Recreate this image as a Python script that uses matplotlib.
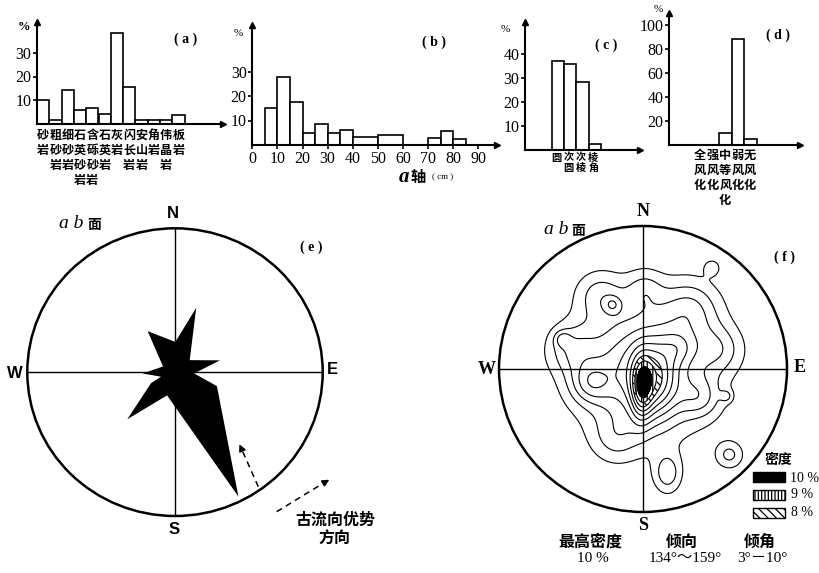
import numpy as np
import matplotlib
matplotlib.use('Agg')
import matplotlib.pyplot as plt
from matplotlib.patches import Circle, Rectangle

W, H = 819, 573
CJK = 'Noto Sans CJK SC'
SERIF = 'Liberation Serif'

# (a) rock types of the gravel
rock_names = ['砂岩', '粗砂岩', '细砂岩', '石英砂岩', '含砾砂岩', '石英岩',
              '灰岩', '闪长岩', '安山岩', '角岩', '伟晶岩', '板岩']
rock_pct = [9.8, 1.5, 14.3, 5.7, 6.8, 4.1, 38.5, 15.5, 1.7, 1.5, 1.5, 3.5]

# (b) a-axis length (cm)
a_left = [5, 10, 15, 20, 25, 30, 35, 40, 50, 70, 75, 80]
a_right = [10, 15, 20, 25, 30, 35, 40, 50, 60, 75, 80, 85]
a_pct = [15.0, 27.8, 17.4, 4.8, 8.6, 5.0, 6.2, 3.1, 4.0, 2.9, 5.9, 2.3]

# (c) roundness
round_names = ['圆', '次圆', '次棱', '棱角']
round_pct = [37, 35.5, 28, 2.5]

# (d) weathering
weather_names = ['全风化', '强风化', '中等风化', '弱风化', '无风化']
weather_pct = [0, 0, 10, 88, 5]

# (e) rose outline of the ab plane (clockwise from N, radius as fraction)
rose_deg = [0.6, 17.8, 50, 74.9, 94, 108.9, 153.6, 198.4, 224.6, 244.7, 251.6, 267.6, 296, 327]
rose_r = [0.21, 0.47, 0.13, 0.315, 0.13, 0.30, 0.966, 0.17, 0.46, 0.18, 0.10, 0.22, 0.09, 0.34]

# (f) density sources of the contour diagram (x east, y north, unit = radius)
blob_x = [-0.01, 0.08, 0.0, -0.30, 0.01, 0.33, 0.53, -0.50, -0.37, -0.19, 0.17, 0.60,
          0.48, 0.58, 0.40, -0.56, -0.21, 0.25]
blob_y = [-0.14, -0.08, 0.0, 0.52, 0.56, 0.42, 0.14, 0.14, -0.10, -0.49, -0.73, -0.60,
          0.71, -0.19, -0.20, 0.21, 0.45, 0.15]
blob_amp = [4.0, 3.5, 5.5, 2.0, 1.6, 2.5, 2.0, 2.0, 2.5, 1.6, 2.5, 2.2,
            1.5, 1.5, 2.0, 1.6, 1.6, 1.5]
blob_sx = [0.05, 0.10, 0.30, 0.12, 0.09, 0.15, 0.12, 0.12, 0.10, 0.12, 0.07, 0.07,
           0.04, 0.03, 0.10, 0.04, 0.04, 0.08]
blob_sy = [0.15, 0.17, 0.30, 0.12, 0.10, 0.15, 0.12, 0.12, 0.10, 0.12, 0.10, 0.07,
           0.04, 0.03, 0.10, 0.04, 0.04, 0.08]
line_levels = [1, 2, 3, 4, 5, 6, 7, 8, 9, 10]

plt.rcParams['hatch.linewidth'] = 0.9
plt.rcParams['hatch.color'] = 'black'

fig = plt.figure(figsize=(W / 100, H / 100), dpi=100)


def box(l, t, r, b):
    return [l / W, 1 - b / H, (r - l) / W, (b - t) / H]


def bar_axes(l, t, r, b):
    ax = fig.add_axes(box(l, t, r, b))
    ax.patch.set_alpha(0)
    for s in ['top', 'right']:
        ax.spines[s].set_visible(False)
    for s in ['left', 'bottom']:
        ax.spines[s].set_linewidth(1.5)
    ax.plot(1, 0, '>k', ms=5, transform=ax.transAxes, clip_on=False)
    ax.plot(0, 1, '^k', ms=5, transform=ax.transAxes, clip_on=False)
    ax.tick_params(length=3, width=1.2, labelsize=11.5, pad=1)
    return ax


def stacked(ax, x, name, top, size, spacing):
    ax.annotate('\n'.join(name), xy=(x, 0), xycoords=('data', 'axes fraction'),
                xytext=(0, -top), textcoords='offset pixels', ha='center', va='top',
                fontsize=size, family=CJK, weight='bold', linespacing=spacing)


def serif_ticks(ax):
    for lab in ax.get_yticklabels() + ax.get_xticklabels():
        lab.set_fontfamily(SERIF)


# (a)
ax = bar_axes(37, 22, 223, 123.5)
ax.bar(np.arange(len(rock_pct)), rock_pct, width=1, align='edge', fc='white', ec='black', lw=1.2)
ax.set_xlim(0, 186 / 12.3)
ax.set_ylim(0, 101.5 / 2.35)
ax.set_yticks([10, 20, 30])
ax.set_xticks([])
serif_ticks(ax)
for i, name in enumerate(rock_names):
    stacked(ax, i + 0.5, name, 5, 8.7, 1.2)

# (b)
ax = bar_axes(252.3, 25, 497, 145)
ax.bar(a_left, a_pct, width=np.subtract(a_right, a_left), align='edge', fc='white', ec='black', lw=1.2)
ax.set_xlim(0, 244.7 / 2.51)
ax.set_ylim(0, 120 / 2.45)
ax.set_yticks([10, 20, 30])
ax.set_xticks(range(0, 91, 10))
serif_ticks(ax)

# (c)
ax = bar_axes(525, 22, 640, 149.5)
ax.bar(np.arange(len(round_pct)), round_pct, width=1, align='edge', fc='white', ec='black', lw=1.2)
ax.set_xlim(-2.15, -2.15 + 115 / 12.4)
ax.set_ylim(0, 127.5 / 2.4)
ax.set_yticks([10, 20, 30, 40])
ax.set_xticks([])
serif_ticks(ax)
for i, name in enumerate(round_names):
    stacked(ax, i + 0.35, name, 3, 7.3, 1.08)

# (d)
ax = bar_axes(669, 13, 800, 145)
ax.bar(np.arange(len(weather_pct)), weather_pct, width=1, align='edge', fc='white', ec='black', lw=1.2)
ax.set_xlim(-2, -2 + 131 / 12.5)
ax.set_ylim(0, 132 / 1.2)
ax.set_yticks([20, 40, 60, 80, 100])
ax.set_xticks([])
serif_ticks(ax)
for i, name in enumerate(weather_names):
    stacked(ax, i + 0.5, name, 4, 8.8, 1.2)

# (e) rose diagram
ax = fig.add_axes(box(27.3, 228.3, 322.7, 516))
ax.set_xlim(-1, 1)
ax.set_ylim(-1, 1)
ax.axis('off')
ax.add_patch(Circle((0, 0), 1, fill=False, lw=1.8, ec='black', clip_on=False))
ax.plot([0, 0], [-1, 1], 'k', lw=1)
ax.plot([-1, 1], [0, 0], 'k', lw=1)
th = np.radians(rose_deg)
ax.fill(np.array(rose_r) * np.sin(th), np.array(rose_r) * np.cos(th), color='black', lw=0)

# (f) contour diagram
ax = fig.add_axes(box(499, 226, 787, 512))
ax.set_xlim(-1, 1)
ax.set_ylim(-1, 1)
ax.axis('off')
circ = Circle((0, 0), 1, fill=False, lw=1.8, ec='black', clip_on=False)
ax.add_patch(circ)
ax.plot([0, 0], [-1, 1], 'k', lw=1)
ax.plot([-1, 1], [0, 0], 'k', lw=1)
g = np.linspace(-1, 1, 400)
X, Y = np.meshgrid(g, g)
Z = np.zeros_like(X)
for bx, by, ba, sx, sy in zip(blob_x, blob_y, blob_amp, blob_sx, blob_sy):
    Z += ba * np.exp(-((X - bx) ** 2 / (2 * sx ** 2) + (Y - by) ** 2 / (2 * sy ** 2)))
cf = ax.contourf(X, Y, Z, levels=[8, 9, 10], colors='white', hatches=['\\\\\\\\', '|||'])
cb = ax.contourf(X, Y, Z, levels=[10, 100], colors='black')
cl = ax.contour(X, Y, Z, levels=line_levels, colors='black', linewidths=0.8)
for c in (cf, cb, cl):
    c.set_clip_path(circ)

# overlay for texts, arrows, legend
ov = fig.add_axes([0, 0, 1, 1])
ov.set_xlim(0, W)
ov.set_ylim(H, 0)
ov.axis('off')
ov.patch.set_alpha(0)


def txt(x, y, s, size=10, family=SERIF, weight='bold', style='normal', ha='center'):
    ov.text(x, y, s, fontsize=size, family=family, weight=weight, style=style, ha=ha, va='center')


txt(24, 27, '%', 9)
txt(186, 39, '( a )', 10)
txt(238, 33, '%', 8, weight='normal')
txt(434, 42, '( b )', 10)
txt(505, 30, '%', 8, weight='normal')
txt(606, 45, '( c )', 10)
txt(658, 10, '%', 8, weight='normal')
txt(778, 35, '( d )', 10)
txt(404, 177, 'a', 15, style='italic')
txt(418, 177, '轴', 11, family=CJK)
txt(443, 177, '( cm )', 6.5, weight='normal')

# (e) texts
txt(173, 214, 'N', 12, family='Liberation Sans')
txt(174, 530, 'S', 12, family='Liberation Sans')
txt(15, 373, 'W', 12, family='Liberation Sans')
txt(332, 370, 'E', 12, family='Liberation Sans')
txt(71, 224, 'a b', 14, style='italic', weight='normal')
txt(94, 225, '面', 10, family=CJK)
txt(311, 247, '( e )', 10)
ov.plot([258.3, 242], [486.7, 450], 'k', lw=1.1, ls=(0, (4, 3)))
ov.annotate('', xy=(238.3, 441.7), xytext=(242, 450),
            arrowprops=dict(arrowstyle='-|>', color='black', lw=1.1, mutation_scale=10))
ov.plot([276.7, 322], [511.7, 484], 'k', lw=1.1, ls=(0, (4, 3)))
ov.annotate('', xy=(331.7, 478.3), xytext=(322, 484),
            arrowprops=dict(arrowstyle='-|>', color='black', lw=1.1, mutation_scale=10))
txt(335, 520, '古流向优势', 11.5, family=CJK)
txt(334, 539, '方向', 11.5, family=CJK)

# (f) texts
txt(643, 212, 'N', 13)
txt(643, 526, 'S', 13)
txt(487, 369, 'W', 13)
txt(800, 368, 'E', 13)
txt(556, 230, 'a b', 14, style='italic', weight='normal')
txt(578, 231, '面', 10, family=CJK)
txt(784, 257, '( f )', 10)
txt(778, 460, '密度', 10, family=CJK)
ov.add_patch(Rectangle((753, 472), 32, 10, fc='black', ec='black', lw=1))
ov.add_patch(Rectangle((753, 490), 32, 10, fc='white', ec='black', lw=1, hatch='|||||'))
ov.add_patch(Rectangle((753, 508), 32, 10, fc='white', ec='black', lw=1, hatch='\\\\\\\\'))
txt(805, 478, '10 %', 10, weight='normal')
txt(802, 495, '9 %', 10, weight='normal')
txt(802, 513, '8 %', 10, weight='normal')
txt(590, 542, '最高密度', 11.5, family=CJK)
txt(682, 542, '倾向', 11.5, family=CJK)
txt(760, 542, '倾角', 11.5, family=CJK)
txt(593, 558, '10 %', 11, weight='normal')
txt(685, 558, '134°～159°', 11, family=[SERIF, CJK], weight='normal')
txt(762, 558, '3°－10°', 11, family=[SERIF, CJK], weight='normal')

fig.savefig('out.png', dpi=100)
